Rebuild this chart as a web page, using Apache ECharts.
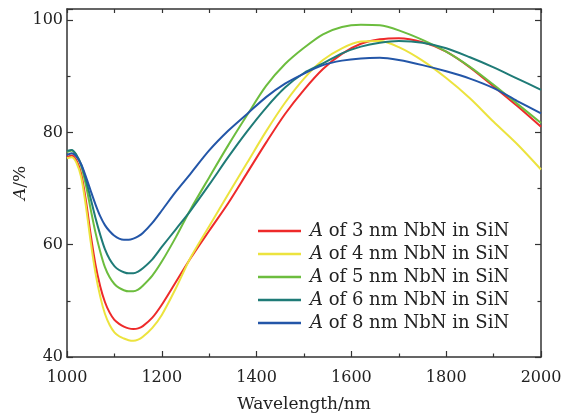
<!DOCTYPE html>
<html>
<head>
<meta charset="utf-8">
<script src="https://cdn.jsdelivr.net/npm/echarts@6/dist/echarts.min.js"></script>
<style>
html,body{margin:0;padding:0;background:#fff;}
#c{width:565px;height:418px;}
</style>
</head>
<body>
<div id="c"></div>
<script>
var wavelength = [1000,1010,1020,1030,1040,1050,1060,1070,1080,1090,1100,1110,1120,1130,1140,1150,1160,1180,1200,1230,1260,1300,1340,1380,1420,1460,1500,1540,1580,1620,1660,1700,1750,1800,1850,1900,1950,2000];
var a3nm = [75.6,75.9,75.0,72.6,67.8,61.8,56.5,52.6,49.8,47.9,46.6,45.9,45.4,45.1,45.0,45.1,45.5,47.0,49.3,53.4,57.5,62.5,67.4,72.8,78.2,83.3,87.6,91.3,94.0,95.8,96.6,96.8,96.1,94.4,91.6,88.2,84.7,81.0];
var a4nm = [75.4,75.6,74.6,72.0,66.8,60.5,55.0,50.8,47.7,45.7,44.4,43.7,43.3,43.0,42.9,43.1,43.6,45.2,47.5,52.3,57.6,63.3,69.0,74.6,80.2,85.3,89.6,92.9,95.0,96.2,96.3,95.2,92.8,89.7,86.1,81.9,77.9,73.4];
var a5nm = [76.5,76.8,75.9,74.0,70.6,66.3,62.2,58.8,56.0,54.2,53.0,52.3,51.9,51.7,51.7,52.0,52.7,54.5,57.0,61.4,66.2,72.0,77.7,83.1,88.3,92.2,95.1,97.5,98.8,99.2,99.1,98.2,96.5,94.4,91.7,88.5,85.1,81.7];
var a6nm = [76.7,76.9,76.0,74.3,71.5,68.2,64.8,61.8,59.2,57.4,56.2,55.5,55.1,54.9,54.9,55.2,55.8,57.4,59.6,62.8,66.0,70.7,75.6,80.2,84.4,88.0,90.6,92.3,94.1,95.3,96.0,96.3,96.0,95.0,93.4,91.6,89.6,87.6];
var a8nm = [76.0,76.3,75.7,74.3,72.1,69.6,67.2,65.1,63.5,62.4,61.6,61.1,60.9,60.9,61.1,61.5,62.1,63.9,66.1,69.5,72.6,76.8,80.3,83.3,86.3,88.7,90.5,92.0,92.8,93.2,93.3,92.9,92.0,90.9,89.6,87.9,85.6,83.4];
var seriesNames = ['A of 3 nm NbN in SiN','A of 4 nm NbN in SiN','A of 5 nm NbN in SiN','A of 6 nm NbN in SiN','A of 8 nm NbN in SiN'];
var seriesValues = [a3nm, a4nm, a5nm, a6nm, a8nm];
var colors = ['#ee2a2a','#ece33e','#6cbd3e','#1f7b77','#2356a8'];
var xTicks = {min:1000, max:2000, interval:200};
var yTicks = {min:40, max:102, interval:20};

var FONT = 'DejaVu Serif';
var TXT = '#222';

function pairs(v){ return wavelength.map(function(x,i){ return [x, v[i]]; }); }

var series = seriesNames.map(function(n,i){
  return {
    name:n, type:'line', data:pairs(seriesValues[i]), smooth:0.3,
    showSymbol:false, symbol:'none', xAxisIndex:0, yAxisIndex:0,
    lineStyle:{color:colors[i], width:2}, itemStyle:{color:colors[i]},
    animation:false
  };
});

var axisLine = {show:true, onZero:false, lineStyle:{color:'#333', width:1.5}};
var chart = echarts.init(document.getElementById('c'), null, {renderer:'canvas'});
chart.setOption({
  backgroundColor:'#fff',
  animation:false,
  grid:{left:67, right:24, top:9, bottom:61, containLabel:false, outerBoundsMode:'none'},
  legend:{
    orient:'vertical', left:258, top:222, padding:0,
    icon:'rect', itemWidth:43, itemHeight:2.5, itemGap:5,
    data:seriesNames,
    formatter:function(n){ return '{i|A}{r|' + n.slice(1) + '}'; },
    textStyle:{
      color:TXT, fontFamily:FONT, fontSize:18, lineHeight:16, padding:[0,0,0,4],
      rich:{
        i:{fontStyle:'italic', fontFamily:FONT, fontSize:18, color:TXT, lineHeight:16},
        r:{fontFamily:FONT, fontSize:18, color:TXT, lineHeight:16}
      }
    }
  },
  xAxis:[
    {type:'value', position:'bottom', min:xTicks.min, max:xTicks.max, interval:xTicks.interval,
     name:'Wavelength/nm', nameLocation:'middle', nameGap:39,
     nameTextStyle:{fontFamily:FONT, fontSize:17, color:TXT},
     axisLine:axisLine,
     axisTick:{show:true, inside:true, length:6, lineStyle:{color:'#333', width:1.2}},
     minorTick:{show:true, splitNumber:2, length:3.5, lineStyle:{color:'#333', width:1.2}},
     axisLabel:{show:true, margin:13, fontFamily:FONT, fontSize:16, color:TXT,
       formatter:function(v){ return String(v); }},
     splitLine:{show:false}},
    {type:'value', position:'top', min:xTicks.min, max:xTicks.max, interval:100,
     axisLine:axisLine,
     axisTick:{show:true, inside:true, length:4, lineStyle:{color:'#333', width:1.2}},
     axisLabel:{show:false}, splitLine:{show:false}}
  ],
  yAxis:[
    {type:'value', position:'left', min:yTicks.min, max:yTicks.max, interval:yTicks.interval,
     name:'{i|A}/%', nameLocation:'middle', nameGap:38, nameRotate:90, nameMoveOverlap:false,
     nameTextStyle:{fontFamily:FONT, fontSize:17, color:TXT,
       rich:{i:{fontStyle:'italic', fontFamily:FONT, fontSize:17, color:TXT}}},
     axisLine:axisLine,
     axisTick:{show:true, inside:true, length:6, lineStyle:{color:'#333', width:1.2}},
     minorTick:{show:true, splitNumber:2, length:3.5, lineStyle:{color:'#333', width:1.2}},
     axisLabel:{show:true, margin:4, fontFamily:FONT, fontSize:16, color:TXT,
       formatter:function(v){ return (v % 20 === 0) ? String(v) : ''; }},
     splitLine:{show:false}},
    {type:'value', position:'right', min:yTicks.min, max:yTicks.max, interval:yTicks.interval,
     axisLine:axisLine,
     axisTick:{show:true, inside:true, length:6, lineStyle:{color:'#333', width:1.2}},
     minorTick:{show:true, splitNumber:2, length:3.5, lineStyle:{color:'#333', width:1.2}},
     axisLabel:{show:false}, splitLine:{show:false}}
  ],
  series:series
});
</script>
</body>
</html>
